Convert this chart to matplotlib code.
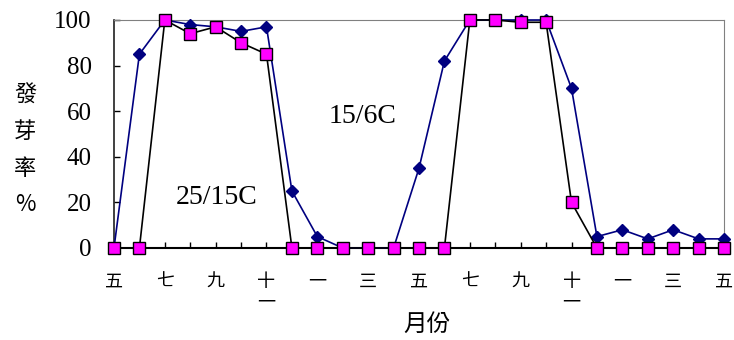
import matplotlib.pyplot as plt
from matplotlib.ticker import MultipleLocator

# month labels every second point (monthly data, May .. May two years later)
month_labels = ['五', '七', '九', '十\n一', '一', '三', '五', '七', '九', '十\n一', '一', '三', '五']

# germination rate (%)
blue_pct = [0, 85, 100, 98, 97, 95, 97, 25, 5, 0, 0, 0, 35, 82,
            100, 100, 100, 100, 70, 5, 8, 4, 8, 4, 4]
pink_pct = [0, 0, 100, 94, 97, 90, 85, 0, 0, 0, 0, 0, 0, 0,
            100, 100, 99, 99, 20, 0, 0, 0, 0, 0, 0]

serif = 'Liberation Serif'
cjk = 'Noto Sans CJK TC'

x = list(range(len(blue_pct)))

fig = plt.figure(figsize=(7.34, 3.40), dpi=100)
ax = fig.add_axes([0.1553, 0.2706, 0.8311, 0.6706])

ax.plot(x, blue_pct, color='#000080', lw=1.2, marker='D', ms=6.5,
        mfc='#000080', mec='#000080', clip_on=False, zorder=3)
ax.plot(x, pink_pct, color='black', lw=1.2, marker='s', ms=8.5,
        mfc='#FF00FF', mec='black', mew=1, clip_on=False, zorder=4)

ax.set_xlim(0, 24)
ax.set_ylim(0, 100)

tick_labels = []
for i in x:
    if i % 2 == 0:
        tick_labels.append(month_labels[i // 2])
    else:
        tick_labels.append('')
ax.set_xticks(x)
ax.set_xticklabels(tick_labels, fontsize=13, family=cjk, linespacing=1.15)

ax.yaxis.set_major_locator(MultipleLocator(20))
for lab in ax.get_yticklabels():
    lab.set_fontfamily(serif)
    lab.set_fontsize(18)

ax.tick_params(axis='both', direction='in', length=4, width=1, color='black')
ax.tick_params(axis='y', pad=16)
ax.tick_params(axis='x', pad=18)

ax.spines['top'].set_color('#808080')
ax.spines['right'].set_color('#808080')
ax.spines['left'].set_color('#202020')
ax.spines['bottom'].set_color('black')
ax.spines['bottom'].set_linewidth(1.5)
ax.spines['left'].set_linewidth(1.2)

ax.text(4.05, 22, '25/15C', fontsize=20, family=serif, ha='center', va='center')
ax.text(9.78, 57.5, '15/6C', fontsize=20, family=serif, ha='center', va='center')

ax.set_xlabel('月份', fontsize=17, family=cjk)
ax.xaxis.set_label_coords(0.513, -0.285)

fig.text(25 / 734, 1 - 150 / 340, '發\n芽\n率\n%', family=cjk, fontsize=16,
         ha='center', va='center', linespacing=1.75)

fig.savefig('out.png', dpi=100)
